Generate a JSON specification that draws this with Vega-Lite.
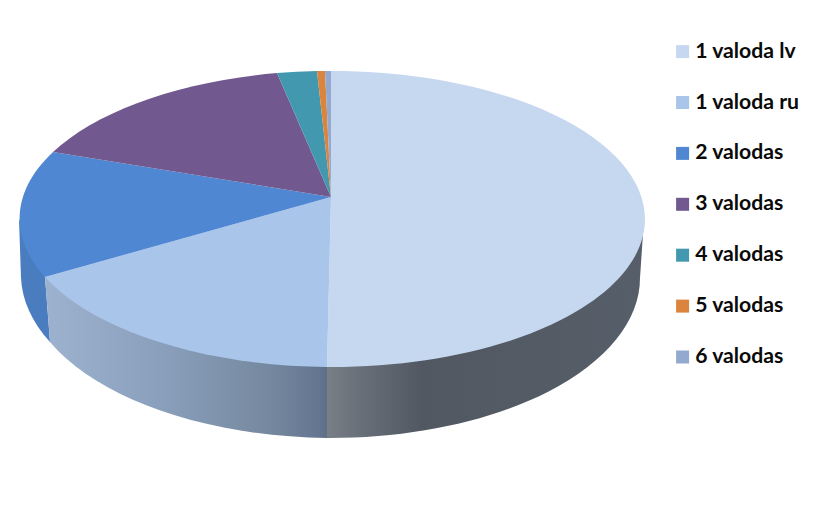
{
  "$schema": "https://vega.github.io/schema/vega-lite/v6.json",
  "width": 823,
  "height": 520,
  "padding": 0,
  "autosize": {"type": "none"},
  "background": "white",
  "config": {"view": {"stroke": null}},
  "data": {"values": [
    {"category": "1 valoda lv", "share": 50.5},
    {"category": "1 valoda ru", "share": 18.5},
    {"category": "2 valodas", "share": 13.5},
    {"category": "3 valodas", "share": 14.5},
    {"category": "4 valodas", "share": 2.3},
    {"category": "5 valodas", "share": 0.4},
    {"category": "6 valodas", "share": 0.3}
  ]},
  "resolve": {"legend": {"color": "independent"}},
  "encoding": {
    "x": {"datum": 0, "type": "quantitative", "scale": {"domain": [-331, 492]}, "axis": null},
    "y": {"datum": 0, "type": "quantitative", "scale": {"domain": [-323, 197]}, "axis": null},
    "size": {"value": 4},
    "opacity": {"value": 1}
  },
  "layer": [
    {
      "transform": [{"filter": "datum.category === '2 valodas'"}],
      "mark": {"type": "point", "filled": true, "strokeWidth": 0, "fill": "#4A7DBF", "shape": "M-312,22L-310,81A310,160,0,0,0,-281,145L-286,80Z"}
    },
    {
      "transform": [{"filter": "datum.category === '1 valoda ru'"}],
      "mark": {"type": "point", "filled": true, "strokeWidth": 0,
        "fill": {"gradient": "linear", "x1": 0, "y1": 0, "x2": 1, "y2": 0, "stops": [
          {"offset": 0, "color": "#9DB2CE"},
          {"offset": 0.4, "color": "#8AA0BC"},
          {"offset": 0.8, "color": "#75889F"},
          {"offset": 0.97, "color": "#647690"},
          {"offset": 1, "color": "#5E6F88"}
        ]},
        "shape": "M-286,80L-4,170L-4,241A310,160,0,0,1,-281,145Z"}
    },
    {
      "transform": [{"filter": "datum.category === '1 valoda lv'"}],
      "mark": {"type": "point", "filled": true, "strokeWidth": 0,
        "fill": {"gradient": "linear", "x1": 0, "y1": 0, "x2": 1, "y2": 0, "stops": [
          {"offset": 0, "color": "#787F87"},
          {"offset": 0.1, "color": "#6A7079"},
          {"offset": 0.3, "color": "#515861"},
          {"offset": 1, "color": "#565E69"}
        ]},
        "shape": "M-4,170L313,22L309,81A310,160,0,0,1,-4,241Z"}
    },
    {
      "mark": {"type": "point", "filled": true, "strokeWidth": 0},
      "encoding": {
        "color": {
          "field": "category", "type": "nominal", "legend": null,
          "scale": {
            "domain": ["1 valoda lv", "1 valoda ru", "2 valodas", "3 valodas", "4 valodas", "5 valodas", "6 valodas"],
            "range": ["#C6D8F0", "#A9C5EA", "#5087D3", "#71588F", "#4198AF", "#DB843D", "#93A9CF"]
          }
        },
        "shape": {
          "field": "category", "type": "nominal", "legend": null,
          "scale": {
            "domain": ["1 valoda lv", "1 valoda ru", "2 valodas", "3 valodas", "4 valodas", "5 valodas", "6 valodas"],
            "range": [
              "M0,0L0,-126A313,148,0,0,1,314,22A313,148,0,0,1,-4,170Z",
              "M0,0L-4,170A313,148,0,0,1,-286,80Z",
              "M0,0L-286,80A313,148,0,0,1,-278,-45Z",
              "M0,0L-278,-45A313,148,0,0,1,-54,-124Z",
              "M0,0L-54,-124A313,148,0,0,1,-14,-126Z",
              "M0,0L-14,-126A313,148,0,0,1,-6,-126Z",
              "M0,0L-6,-126A313,148,0,0,1,0,-126Z"
            ]
          }
        },
        "tooltip": {"field": "share", "type": "quantitative"}
      }
    },
    {
      "mark": {"type": "square", "filled": true, "strokeWidth": 0},
      "encoding": {
        "size": {"value": 0},
        "color": {
          "field": "category", "type": "nominal",
          "legend": {
            "title": null, "orient": "none", "legendX": 672, "legendY": 41, "padding": 0,
            "symbolType": "square", "symbolSize": 169, "symbolOpacity": 1, "symbolStrokeWidth": 0,
            "labelFont": "Lato", "labelFontWeight": "bold", "labelFontSize": 21.2, "labelColor": "#0A0A0A",
            "labelOffset": 2, "rowPadding": 28.9, "labelLimit": 140
          }
        }
      }
    }
  ]
}
